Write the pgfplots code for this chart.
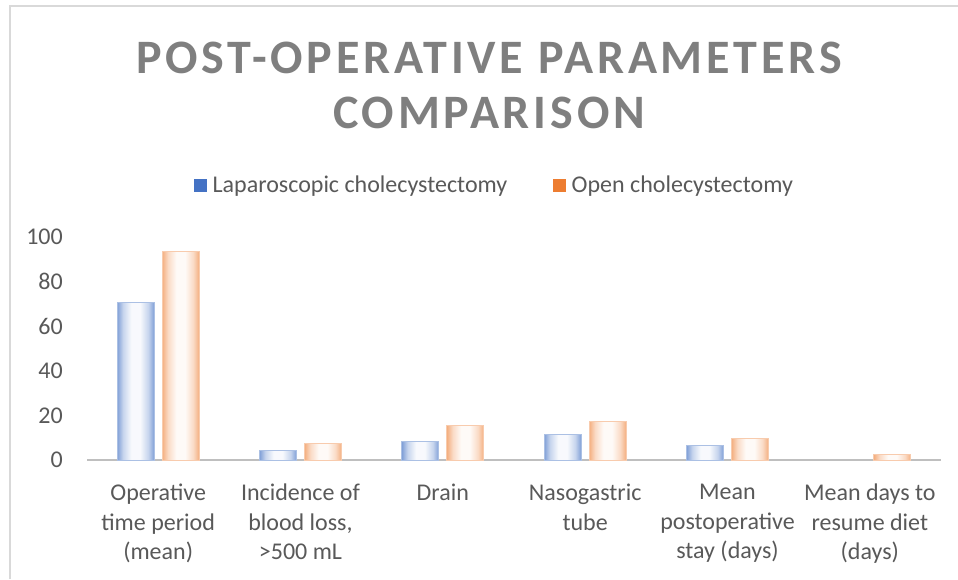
\documentclass[border=0pt]{standalone}
\usepackage{pgfplots}
\pgfplotsset{compat=1.18}
\usepackage{fontspec}
\setmainfont{Carlito}
\newfontfamily\titlefont[LetterSpace=8]{Carlito}
\definecolor{lapC}{HTML}{4472C4}
\definecolor{openC}{HTML}{ED7D31}
\definecolor{txt}{HTML}{595959}
\definecolor{ttl}{HTML}{7F7F7F}
\definecolor{axc}{HTML}{BFBFBF}
\definecolor{frm}{HTML}{D9D9D9}
\colorlet{lapE}{lapC!68!white}
\colorlet{lapM}{lapC!30!white}
\colorlet{lapW}{lapC!4!white}
\colorlet{openE}{openC!62!white}
\colorlet{openM}{openC!28!white}
\colorlet{openW}{openC!4!white}
\pgfdeclarehorizontalshading{lapsh}{100bp}{color(0bp)=(lapE); color(25bp)=(lapE); color(33bp)=(lapM); color(44bp)=(lapW); color(56bp)=(lapW); color(67bp)=(lapM); color(75bp)=(lapE); color(100bp)=(lapE)}
\pgfdeclarehorizontalshading{opensh}{100bp}{color(0bp)=(openE); color(25bp)=(openE); color(33bp)=(openM); color(44bp)=(openW); color(56bp)=(openW); color(67bp)=(openM); color(75bp)=(openE); color(100bp)=(openE)}
\pgfplotsset{
  lapbar/.style={ybar, bar width=37pt, bar shift=-22.5pt, forget plot,
    draw=lapC!45!white, line width=0.8pt, shading=lapsh},
  openbar/.style={ybar, bar width=37pt, bar shift=22.5pt, forget plot,
    draw=openC!40!white, line width=0.8pt, shading=opensh},
}
\begin{document}
\begin{tikzpicture}
\path[use as bounding box, fill=white] (0pt,0pt) rectangle (958pt,579pt);
\draw[frm, line width=1.5pt] (10pt,0pt) -- (10pt,573pt) -- (958pt,573pt);
\node[anchor=base, font=\titlefont\bfseries\fontsize{48}{52}\selectfont, text=ttl, inner sep=0pt] at (489pt,505pt) {POST-OPERATIVE PARAMETERS};
\node[anchor=base, font=\titlefont\bfseries\fontsize{48}{52}\selectfont, text=ttl, inner sep=0pt] at (489pt,450pt) {COMPARISON};
\begin{axis}[
  at={(87pt,119pt)}, anchor=south west, scale only axis,
  width=854pt, height=223.3pt,
  xmin=-0.5, xmax=5.5, ymin=0, ymax=100,
  axis lines=left,
  axis line style={-},
  y axis line style={draw=none},
  x axis line style={draw=axc, line width=2.5pt},
  major tick length=0pt,
  xtick={0,1,2,3,4,5},
  xticklabels={{Operative\\time period\\(mean)},{Incidence of\\blood loss,\\>500 mL},{Drain},{Nasogastric\\tube},{Mean\\postoperative\\stay (days)},{Mean days to\\resume diet\\(days)}},
  ytick={0,20,40,60,80,100},
  /pgf/number format/assume math mode=true,
  tick label style={font=\fontsize{24}{29.5}\selectfont, text=txt},
  xticklabel style={anchor=north, align=center, inner sep=0pt, yshift=-24pt},
  yticklabel style={anchor=east, inner sep=0pt, xshift=-24pt},
  legend style={at={(axis description cs:0.4772,1.2315)}, anchor=center, draw=none, fill=none,
    font=\fontsize{24}{28}\selectfont, text=txt,
    /tikz/every even column/.append style={column sep=44pt}},
  legend columns=2,
  legend cell align=left,
]
\addlegendimage{legend image code/.code={\fill[lapC] (0pt,-6pt) rectangle (12pt,6pt); \path (16pt,0pt);}}
\addlegendentry{Laparoscopic cholecystectomy}
\addlegendimage{legend image code/.code={\fill[openC] (0pt,-6pt) rectangle (12pt,6pt); \path (16pt,0pt);}}
\addlegendentry{Open cholecystectomy}
% Laparoscopic cholecystectomy
\addplot[lapbar] coordinates {(0,70.6)};
\addplot[lapbar] coordinates {(1,4.2)};
\addplot[lapbar] coordinates {(2,8.2)};
\addplot[lapbar] coordinates {(3,11.3)};
\addplot[lapbar] coordinates {(4,6.4)};
% Open cholecystectomy
\addplot[openbar] coordinates {(0,93.3)};
\addplot[openbar] coordinates {(1,7.3)};
\addplot[openbar] coordinates {(2,15.3)};
\addplot[openbar] coordinates {(3,17.3)};
\addplot[openbar] coordinates {(4,9.7)};
\addplot[openbar] coordinates {(5,2.6)};
\end{axis}
\end{tikzpicture}
\end{document}
